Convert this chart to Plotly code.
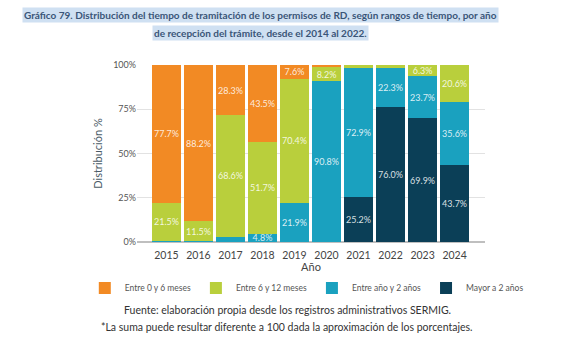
import plotly.graph_objects as go

years = ["2015", "2016", "2017", "2018", "2019", "2020", "2021", "2022", "2023", "2024"]
series_names = ["Mayor a 2 años", "Entre año y 2 años", "Entre 6 y 12 meses", "Entre 0 y 6 meses"]
mayor_2 = [0.0, 0.0, 0.0, 0.0, 0.0, 0.0, 25.2, 76.0, 69.9, 43.7]
anio_2 = [0.8, 0.3, 3.1, 4.8, 21.9, 90.8, 72.9, 22.3, 23.7, 35.6]
meses_6_12 = [21.5, 11.5, 68.6, 51.7, 70.4, 8.2, 1.9, 1.7, 6.3, 20.6]
meses_0_6 = [77.7, 88.2, 28.3, 43.5, 7.6, 1.0, 0.0, 0.0, 0.0, 0.0]
colors = ["#0B3F57", "#1AA1BF", "#B9CF3C", "#F28A24"]
tick_vals = [0, 25, 50, 75, 100]
tick_text = ["0%", "25%", "50%", "75%", "100%"]

FONT = "Lato"
fig = go.Figure()
for name, vals, col in zip(series_names, [mayor_2, anio_2, meses_6_12, meses_0_6], colors):
    labels = [f"{v:.1f}%" if v >= 4 else "" for v in vals]
    fig.add_trace(go.Bar(
        x=years, y=vals, name=name, marker=dict(color=col, line=dict(width=0)),
        text=labels, texttemplate="%{text}", textposition="inside",
        insidetextanchor="middle", textangle=0,
        textfont=dict(family=FONT, size=9, color="rgba(255,255,255,0.85)"),
        hoverinfo="skip",
    ))

fig.update_layout(
    width=578, height=340, barmode="stack", bargap=0.09,
    paper_bgcolor="white", plot_bgcolor="white",
    margin=dict(l=137, r=93, t=65, b=98),
    font=dict(family=FONT, color="#444444"),
    uniformtext=dict(minsize=9, mode="show"),
    legend=dict(orientation="h", x=-0.15, xanchor="left", y=-(288 - 242) / 177, yanchor="middle",
                font=dict(size=8.5, color="#555555"), traceorder="reversed",
                itemwidth=30, tracegroupgap=0, borderwidth=0),
    xaxis=dict(range=[-0.92, 9.95], showgrid=False, zeroline=False, showline=False,
               tickfont=dict(size=10.5, color="#444444"), ticks="", ticklabelstandoff=5,
               title=dict(text="Año", font=dict(size=11, color="#444444"), standoff=1)),
    yaxis=dict(range=[0, 100], tickvals=tick_vals, ticktext=tick_text,
               gridcolor="#E2E2E2", gridwidth=1, zeroline=True, zerolinecolor="#BFBFBF",
               tickfont=dict(size=9, color="#555555"), ticks="",
               title=dict(text="Distribución %", font=dict(size=11, color="#4A5A66"), standoff=8)),
)

title_color = "#3A5578"
hl = "#CFE0F2"
fig.add_annotation(xref="paper", yref="paper", x=(260 - 137) / 348, y=1 + (65 - 15) / 177,
                   text="<b>Gráfico 79. Distribución del tiempo de tramitación de los permisos de RD, según rangos de tiempo, por año</b>",
                   showarrow=False, font=dict(size=10, color=title_color, family=FONT),
                   bgcolor=hl, borderpad=1, xanchor="center", yanchor="middle")
fig.add_annotation(xref="paper", yref="paper", x=(260 - 137) / 348, y=1 + (65 - 33) / 177,
                   text="<b>de recepción del trámite, desde el 2014 al 2022.</b>",
                   showarrow=False, font=dict(size=10, color=title_color, family=FONT),
                   bgcolor=hl, borderpad=1, xanchor="center", yanchor="middle")
fig.add_annotation(xref="paper", yref="paper", x=(287 - 137) / 348, y=-(310 - 242) / 177,
                   text="Fuente: elaboración propia desde los registros administrativos SERMIG.",
                   showarrow=False, font=dict(size=10.5, color="#333333", family=FONT),
                   xanchor="center", yanchor="middle")
fig.add_annotation(xref="paper", yref="paper", x=(287 - 137) / 348, y=-(327 - 242) / 177,
                   text="*La suma puede resultar diferente a 100 dada la aproximación de los porcentajes.",
                   showarrow=False, font=dict(size=10.5, color="#333333", family=FONT),
                   xanchor="center", yanchor="middle")

fig.write_html("out.html")
